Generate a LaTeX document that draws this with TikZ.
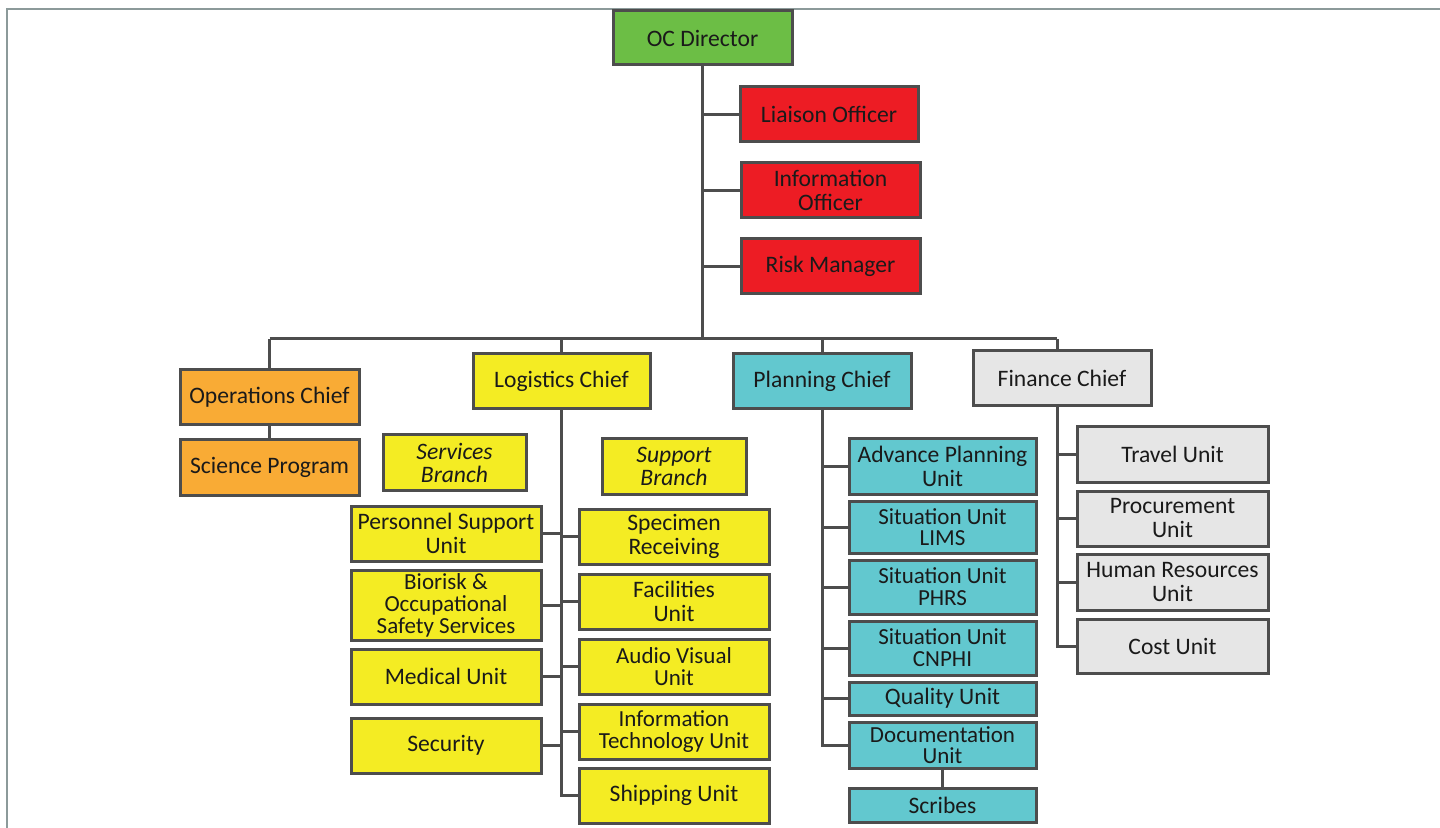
\documentclass[tikz,border=0pt]{standalone}
\usepackage{fontspec}
\setmainfont{Carlito}
\definecolor{cgreen}{HTML}{6CBE45}
\definecolor{cred}{HTML}{ED1C24}
\definecolor{corange}{HTML}{F9AB35}
\definecolor{cyellow}{HTML}{F4EC23}
\definecolor{cteal}{HTML}{62C8CF}
\definecolor{cgray}{HTML}{E6E6E6}
\definecolor{cborder}{HTML}{4D4D4D}
\definecolor{cframe}{HTML}{8C9A9A}
\definecolor{ctext}{HTML}{1A1A1A}
\tikzset{
  orgbox/.style={draw=cborder, line width=1.5pt, rectangle, align=center, inner sep=0.5pt,
    text=ctext, font=\fontsize{11.8}{12}\selectfont},
  greenbox/.style={orgbox, fill=cgreen},
  redbox/.style={orgbox, fill=cred},
  orangebox/.style={orgbox, fill=corange},
  yellowbox/.style={orgbox, fill=cyellow},
  branchbox/.style={orgbox, fill=cyellow, font=\fontsize{11.8}{11.5}\selectfont\itshape},
  tealbox/.style={orgbox, fill=cteal},
  graybox/.style={orgbox, fill=cgray},
  tight/.style={font=\fontsize{11.5}{11}\selectfont},
  tighter/.style={font=\fontsize{11.5}{10.8}\selectfont},
  link/.style={draw=cborder, line width=1.5pt},
}
\newcommand\orgbox[7]{%
  \node[#6, minimum width={(#4-#2)*0.5pt}, minimum height={(#5-#3)*0.5pt}]
    (#1) at ({(#2+#4)/2},{(#3+#5)/2}) {#7};}
\begin{document}
\begin{tikzpicture}[x=0.5pt,y=-0.5pt]
\useasboundingbox (0,0) rectangle (1440,828);
\fill[white] (0,0) rectangle (1440,828);
\draw[cframe, line width=1pt] (7,828) -- (7,9) -- (1440,9);

\coordinate (bar) at (701,339);
\coordinate (finspine) at (1057,406);

% top
\orgbox{dir}{613}{11}{792}{65}{greenbox}{OC Director}
\orgbox{liaison}{740}{87}{918}{142}{redbox}{Liaison Officer}
\orgbox{info}{741}{163}{920}{218}{redbox}{Information\\Officer}
\orgbox{risk}{741}{239}{920}{294}{redbox}{Risk Manager}

% chiefs
\orgbox{ops}{180}{370}{359}{425}{orangebox}{Operations Chief}
\orgbox{sci}{180}{440}{359}{495}{orangebox}{Science Program}
\orgbox{log}{473}{354}{650}{409}{yellowbox}{Logistics Chief}
\orgbox{plan}{733}{354}{911}{409}{tealbox}{Planning Chief}
\orgbox{fin}{973}{351}{1151}{406}{graybox}{Finance Chief}

% logistics
\orgbox{serv}{383}{435}{526}{490}{branchbox}{Services\\Branch}
\orgbox{supp}{602}{439}{746}{494}{branchbox}{Support\\Branch}
\orgbox{pers}{351}{506}{541}{561}{yellowbox}{Personnel Support\\Unit}
\orgbox{bio}{351}{570}{541}{640}{yellowbox,tight}{Biorisk \&\\Occupational\\Safety Services}
\orgbox{med}{351}{649}{541}{704}{yellowbox}{Medical Unit}
\orgbox{sec}{351}{718}{541}{773}{yellowbox}{Security}
\orgbox{spec}{579}{509}{769}{564}{yellowbox}{Specimen\\Receiving}
\orgbox{fac}{579}{574}{769}{629}{yellowbox}{Facilities\\Unit}
\orgbox{av}{579}{639}{769}{694}{yellowbox,tight}{Audio Visual\\Unit}
\orgbox{it}{579}{704}{769}{759}{yellowbox,tight}{Information\\Technology Unit}
\orgbox{ship}{579}{768}{769}{823}{yellowbox}{Shipping Unit}

% planning
\orgbox{adv}{849}{439}{1036}{494}{tealbox}{Advance Planning\\Unit}
\orgbox{lims}{849}{501}{1036}{553}{tealbox,tighter}{Situation Unit\\LIMS}
\orgbox{phrs}{849}{560}{1036}{614}{tealbox,tight}{Situation Unit\\PHRS}
\orgbox{cnphi}{849}{621}{1036}{675}{tealbox,tight}{Situation Unit\\CNPHI}
\orgbox{qual}{849}{682}{1036}{715}{tealbox}{Quality Unit}
\orgbox{doc}{849}{722}{1036}{768}{tealbox,tighter}{Documentation\\Unit}
\orgbox{scr}{849}{788}{1036}{822}{tealbox}{Scribes}

% finance
\orgbox{trav}{1077}{427}{1268}{482}{graybox}{Travel Unit}
\orgbox{proc}{1077}{491}{1268}{546}{graybox}{Procurement\\Unit}
\orgbox{hr}{1077}{554}{1268}{610}{graybox}{Human Resources\\Unit}
\orgbox{cost}{1077}{619}{1268}{673}{graybox}{Cost Unit}

\draw[link] (dir.south) -- (dir.south |- bar);
\draw[link] (dir.south |- liaison.west) -- (liaison.west);
\draw[link] (dir.south |- info.west) -- (info.west);
\draw[link] (dir.south |- risk.west) -- (risk.west);
\draw[link] (ops.north |- bar) -- (finspine |- bar);
\draw[link] (ops.north) -- (ops.north |- bar);
\draw[link] (log.north) -- (log.north |- bar);
\draw[link] (plan.north) -- (plan.north |- bar);
\draw[link] (fin.north -| finspine) -- (finspine |- bar);
\draw[link] (ops.south) -- (sci.north);

\draw[link] (log.south) -- (log.south |- ship.west) -- (ship.west);
\draw[link] (pers.east) -- (log.south |- pers.east);
\draw[link] (bio.east) -- (log.south |- bio.east);
\draw[link] (med.east) -- (log.south |- med.east);
\draw[link] (sec.east) -- (log.south |- sec.east);
\draw[link] (log.south |- spec.west) -- (spec.west);
\draw[link] (log.south |- fac.west) -- (fac.west);
\draw[link] (log.south |- av.west) -- (av.west);
\draw[link] (log.south |- it.west) -- (it.west);

\draw[link] (plan.south) -- (plan.south |- doc.west) -- (doc.west);
\draw[link] (plan.south |- adv.west) -- (adv.west);
\draw[link] (plan.south |- lims.west) -- (lims.west);
\draw[link] (plan.south |- phrs.west) -- (phrs.west);
\draw[link] (plan.south |- cnphi.west) -- (cnphi.west);
\draw[link] (plan.south |- qual.west) -- (qual.west);
\draw[link] (doc.south) -- (scr.north);

\draw[link] (finspine) -- (finspine |- cost.west) -- (cost.west);
\draw[link] (finspine |- trav.west) -- (trav.west);
\draw[link] (finspine |- proc.west) -- (proc.west);
\draw[link] (finspine |- hr.west) -- (hr.west);
\end{tikzpicture}
\end{document}
